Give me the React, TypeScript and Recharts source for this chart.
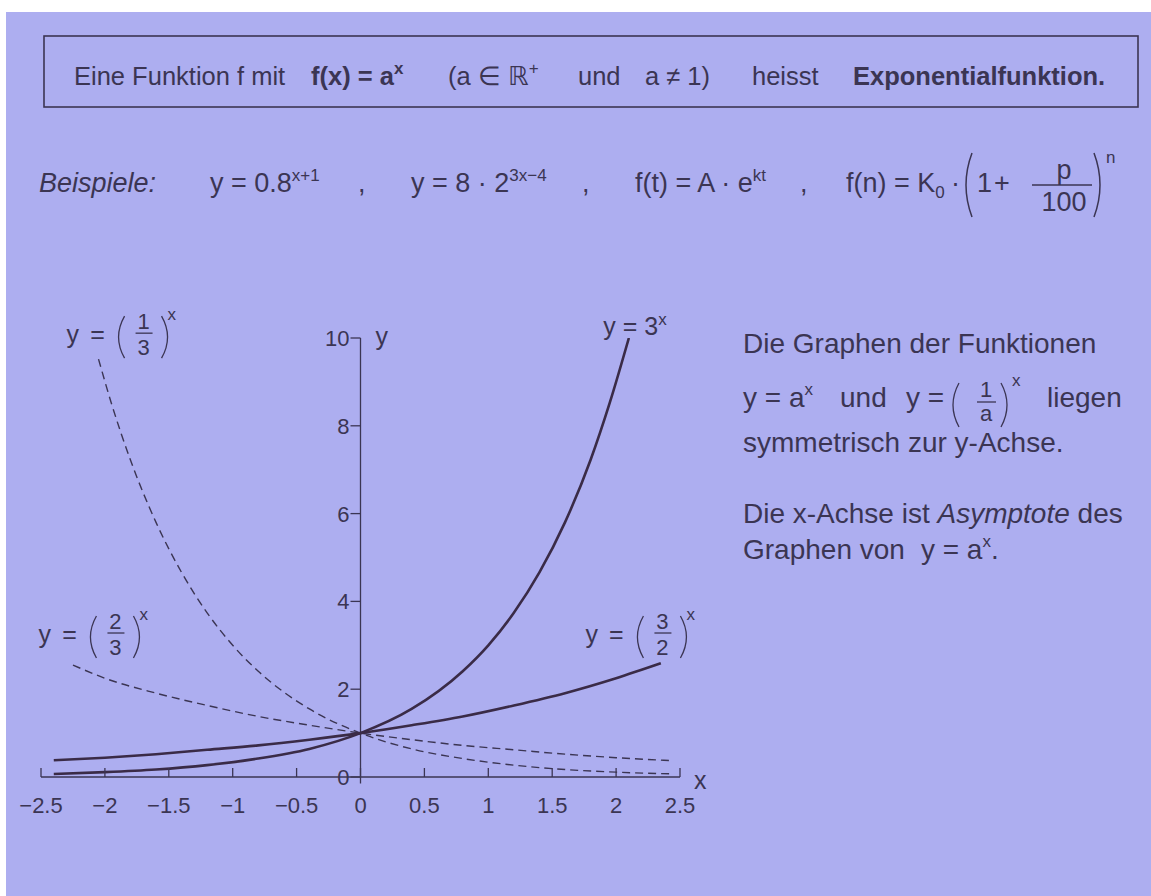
import React from "react";
import {
  LineChart,
  Line,
  XAxis,
  YAxis,
  ReferenceLine,
  ReferenceDot,
} from "recharts";

const INK = "#3b3553";
const CURVE = "#3a2b47";
const PAPER = "#adaef0";
const FONT = '"Liberation Sans", Arial, Helvetica, sans-serif';

// y = 3^x
const threeX = [-2.4, -2.0, -1.6, -1.2, -0.8, -0.4, 0, 0.4, 0.8, 1.0, 1.2, 1.4, 1.6, 1.8, 1.95, 2.1];
const threeY = [0.07, 0.11, 0.17, 0.27, 0.42, 0.64, 1, 1.55, 2.41, 3.0, 3.74, 4.66, 5.8, 7.22, 8.52, 10.0];

// y = (1/3)^x
const thirdX = [-2.05, -1.95, -1.8, -1.6, -1.4, -1.2, -1.0, -0.8, -0.4, 0, 0.4, 0.8, 1.2, 1.6, 2.0, 2.45];
const thirdY = [9.52, 8.52, 7.22, 5.8, 4.66, 3.74, 3.0, 2.41, 1.55, 1, 0.64, 0.42, 0.27, 0.17, 0.11, 0.07];

// y = (3/2)^x
const threeHalvesX = [-2.4, -2.0, -1.6, -1.2, -0.8, -0.4, 0, 0.4, 0.8, 1.2, 1.6, 2.0, 2.35];
const threeHalvesY = [0.38, 0.44, 0.52, 0.62, 0.72, 0.85, 1, 1.18, 1.38, 1.63, 1.91, 2.25, 2.59];

// y = (2/3)^x
const twoThirdsX = [-2.25, -2.0, -1.6, -1.2, -0.8, -0.4, 0, 0.4, 0.8, 1.2, 1.6, 2.0, 2.45];
const twoThirdsY = [2.55, 2.25, 1.91, 1.63, 1.38, 1.18, 1, 0.85, 0.72, 0.62, 0.52, 0.44, 0.37];

const xTicks = [-2.5, -2, -1.5, -1, -0.5, 0, 0.5, 1, 1.5, 2, 2.5];
const xTickLabels = ["−2.5", "−2", "−1.5", "−1", "−0.5", "0", "0.5", "1", "1.5", "2", "2.5"];
const yTicks = [0, 2, 4, 6, 8, 10];
const yTickLabels = ["0", "2", "4", "6", "8", "10"];

const toPoints = (xs: number[], ys: number[]) => xs.map((x, i) => ({ x, y: ys[i] }));

const paren = (x: number, cy: number, h: number, dir: number) =>
  `M ${x} ${cy - h / 2} Q ${x + dir * 12} ${cy} ${x} ${cy + h / 2}`;

function XTick({ cx, cy, label }: any) {
  return (
    <g>
      <line x1={cx} x2={cx} y1={cy} y2={cy - 9} stroke={INK} strokeWidth={1.3} />
      <text x={cx} y={cy + 36} textAnchor="middle" fontSize={22} fill={INK} fontFamily={FONT}>
        {label}
      </text>
    </g>
  );
}

function YTick({ cx, cy, label }: any) {
  return (
    <g>
      <line x1={cx - 10} x2={cx} y1={cy} y2={cy} stroke={INK} strokeWidth={1.3} />
      <text x={cx - 11} y={cy + 8} textAnchor="end" fontSize={22} fill={INK} fontFamily={FONT}>
        {label}
      </text>
    </g>
  );
}

// "y = (num/den)^x" with the fraction bar at cy
function FracPower({ cx, cy, num, den }: any) {
  return (
    <g fill={INK} fontFamily={FONT}>
      <text x={cx} y={cy + 10} fontSize={25}>y</text>
      <text x={cx + 31} y={cy + 10} fontSize={25} textAnchor="middle">=</text>
      <path d={paren(cx + 58, cy + 4, 42, -1)} stroke={INK} strokeWidth={1.3} fill="none" />
      <text x={cx + 77} y={cy - 4} fontSize={22} textAnchor="middle">{num}</text>
      <line x1={cx + 69} x2={cx + 86} y1={cy} y2={cy} stroke={INK} strokeWidth={1.3} />
      <text x={cx + 77} y={cy + 22} fontSize={22} textAnchor="middle">{den}</text>
      <path d={paren(cx + 95, cy + 4, 42, 1)} stroke={INK} strokeWidth={1.3} fill="none" />
      <text x={cx + 101} y={cy - 13} fontSize={17}>x</text>
    </g>
  );
}

function PowerThree({ cx, cy }: any) {
  return (
    <text x={cx} y={cy} fontSize={25} fill={INK} fontFamily={FONT}>
      y = 3<tspan dy={-10} fontSize={17}>x</tspan>
    </text>
  );
}

function ExpChart() {
  return (
    <LineChart
      width={1151}
      height={896}
      margin={{ top: 338, right: 471, bottom: 119, left: 41 }}
    >
      <XAxis type="number" dataKey="x" domain={[-2.5, 2.5]} allowDataOverflow hide height={0} />
      <YAxis type="number" dataKey="y" domain={[0, 10]} allowDataOverflow hide width={0} />

      {/* axes through the origin */}
      <ReferenceLine
        segment={[{ x: -2.5, y: 0 }, { x: 2.5, y: 0 }]}
        stroke={INK}
        strokeWidth={1.3}
        ifOverflow="visible"
      />
      <ReferenceLine
        segment={[{ x: 0, y: -0.15 }, { x: 0, y: 10 }]}
        stroke={INK}
        strokeWidth={1.3}
        ifOverflow="visible"
      />
      {xTicks.map((v, i) => (
        <ReferenceDot
          key={`xt${v}`}
          x={v}
          y={0}
          ifOverflow="visible"
          shape={(p: any) => <XTick cx={p.cx} cy={p.cy} label={xTickLabels[i]} />}
        />
      ))}
      {yTicks.map((v, i) => (
        <ReferenceDot
          key={`yt${v}`}
          x={0}
          y={v}
          ifOverflow="visible"
          shape={(p: any) => <YTick cx={p.cx} cy={p.cy} label={yTickLabels[i]} />}
        />
      ))}
      <ReferenceDot
        x={0}
        y={10}
        ifOverflow="visible"
        shape={(p: any) => (
          <text x={p.cx + 15} y={p.cy + 7} fontSize={25} fill={INK} fontFamily={FONT}>y</text>
        )}
      />
      <ReferenceDot
        x={2.5}
        y={0}
        ifOverflow="visible"
        shape={(p: any) => (
          <text x={p.cx + 14} y={p.cy + 12} fontSize={25} fill={INK} fontFamily={FONT}>x</text>
        )}
      />

      {/* dashed: bases below one */}
      <Line
        data={toPoints(thirdX, thirdY)}
        dataKey="y"
        type="monotone"
        stroke={INK}
        strokeWidth={1.4}
        strokeDasharray="8 5"
        dot={false}
        isAnimationActive={false}
      />
      <Line
        data={toPoints(twoThirdsX, twoThirdsY)}
        dataKey="y"
        type="monotone"
        stroke={INK}
        strokeWidth={1.4}
        strokeDasharray="8 5"
        dot={false}
        isAnimationActive={false}
      />
      {/* solid: bases above one */}
      <Line
        data={toPoints(threeX, threeY)}
        dataKey="y"
        type="monotone"
        stroke={CURVE}
        strokeWidth={2.6}
        dot={false}
        isAnimationActive={false}
      />
      <Line
        data={toPoints(threeHalvesX, threeHalvesY)}
        dataKey="y"
        type="monotone"
        stroke={CURVE}
        strokeWidth={2.6}
        dot={false}
        isAnimationActive={false}
      />

      {/* curve names */}
      <ReferenceDot
        x={-2.3}
        y={10.11}
        ifOverflow="visible"
        shape={(p: any) => <FracPower cx={p.cx} cy={p.cy} num="1" den="3" />}
      />
      <ReferenceDot
        x={-2.52}
        y={3.28}
        ifOverflow="visible"
        shape={(p: any) => <FracPower cx={p.cx} cy={p.cy} num="2" den="3" />}
      />
      <ReferenceDot
        x={1.76}
        y={3.28}
        ifOverflow="visible"
        shape={(p: any) => <FracPower cx={p.cx} cy={p.cy} num="3" den="2" />}
      />
      <ReferenceDot
        x={1.9}
        y={10.07}
        ifOverflow="visible"
        shape={(p: any) => <PowerThree cx={p.cx} cy={p.cy} />}
      />
    </LineChart>
  );
}

function PageText() {
  const sup = { fontSize: 17 };
  return (
    <svg
      width={1151}
      height={896}
      style={{ position: "absolute", left: 0, top: 0, pointerEvents: "none" }}
      fontFamily={FONT}
      fill={INK}
    >
      {/* definition box */}
      <rect x={44} y={36} width={1094} height={71} fill="none" stroke={INK} strokeWidth={1.6} />
      <g fontSize={25.5}>
        <text x={74} y={85}>Eine Funktion f mit</text>
        <text x={311} y={85} fontWeight="bold">
          f(x) = a<tspan dy={-11} {...sup}>x</tspan>
        </text>
        <text x={448} y={85}>
          (a ∈ ℝ<tspan dy={-11} {...sup}>+</tspan>
        </text>
        <text x={578} y={85}>und</text>
        <text x={645} y={85}>a ≠ 1)</text>
        <text x={752} y={85}>heisst</text>
        <text x={853} y={85} fontWeight="bold">Exponentialfunktion.</text>
      </g>

      {/* examples */}
      <g fontSize={27}>
        <text x={39} y={192} fontStyle="italic">Beispiele:</text>
        <text x={210} y={192}>
          y = 0.8<tspan dy={-11} {...sup}>x+1</tspan>
        </text>
        <text x={358} y={192}>,</text>
        <text x={411} y={192}>
          y = 8 · 2<tspan dy={-11} {...sup}>3x−4</tspan>
        </text>
        <text x={582} y={192}>,</text>
        <text x={635} y={192}>
          f(t) = A · e<tspan dy={-11} {...sup}>kt</tspan>
        </text>
        <text x={800} y={192}>,</text>
        <text x={846} y={192}>
          f(n) = K<tspan dy={6} {...sup}>0</tspan>
        </text>
        <text x={951} y={192}>·</text>
        <path d={paren(972, 185, 64, -1)} stroke={INK} strokeWidth={1.5} fill="none" />
        <text x={977} y={192}>1</text>
        <text x={994} y={192}>+</text>
        <text x={1064} y={179} textAnchor="middle">p</text>
        <line x1={1032} x2={1092} y1={185} y2={185} stroke={INK} strokeWidth={1.4} />
        <text x={1064} y={211} textAnchor="middle">100</text>
        <path d={paren(1094, 185, 64, 1)} stroke={INK} strokeWidth={1.5} fill="none" />
        <text x={1106} y={163} {...sup}>n</text>
      </g>

      {/* notes beside the graph */}
      <g fontSize={28}>
        <text x={743} y={353}>Die Graphen der Funktionen</text>
        <text x={743} y={407}>
          y = a<tspan dy={-12} {...sup}>x</tspan>
        </text>
        <text x={840} y={407}>und</text>
        <text x={906} y={407}>y =</text>
        <path d={paren(959, 405, 44, -1)} stroke={INK} strokeWidth={1.3} fill="none" />
        <text x={986} y={397} fontSize={22} textAnchor="middle">1</text>
        <line x1={977} x2={996} y1={402} y2={402} stroke={INK} strokeWidth={1.3} />
        <text x={986} y={421} fontSize={22} textAnchor="middle">a</text>
        <path d={paren(1001, 405, 44, 1)} stroke={INK} strokeWidth={1.3} fill="none" />
        <text x={1012} y={386} {...sup}>x</text>
        <text x={1047} y={407}>liegen</text>
        <text x={743} y={452}>symmetrisch zur y-Achse.</text>
        <text x={743} y={523}>
          Die x-Achse ist <tspan fontStyle="italic">Asymptote</tspan> des
        </text>
        <text x={743} y={559}>
          Graphen von<tspan dx={16}>y = a</tspan>
          <tspan dy={-12} {...sup}>x</tspan>
          <tspan dy={12}>.</tspan>
        </text>
      </g>
    </svg>
  );
}

export default function App() {
  return (
    <div
      style={{
        position: "absolute",
        left: 0,
        top: 0,
        width: 1151,
        height: 896,
        background: "#ffffff",
        overflow: "hidden",
      }}
    >
      <div style={{ position: "absolute", left: 6, top: 12, right: 0, bottom: 0, background: PAPER }} />
      <div style={{ position: "absolute", left: 0, top: 0 }}>
        <ExpChart />
      </div>
      <PageText />
    </div>
  );
}
